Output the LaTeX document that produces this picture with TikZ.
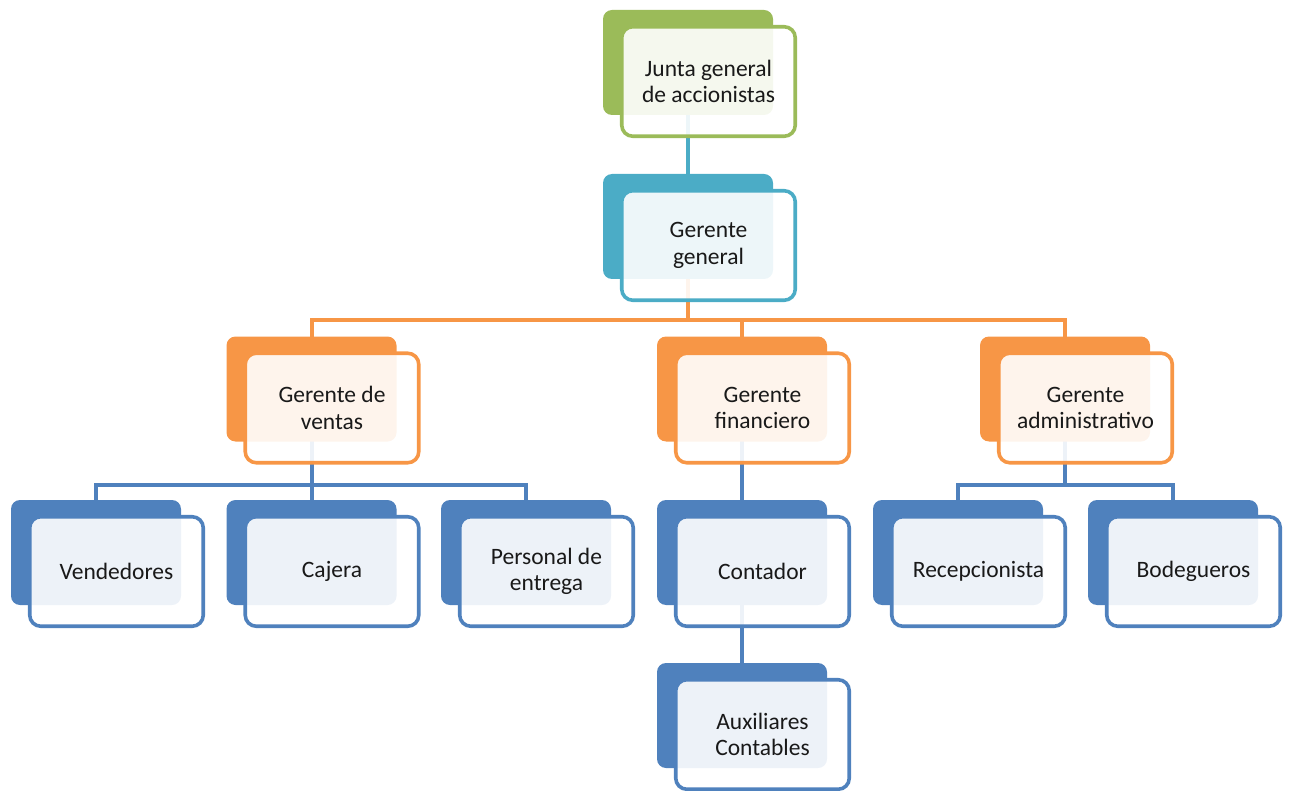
\documentclass[tikz,border=0pt]{standalone}
\usepackage{fontspec}
\setmainfont{Carlito}
\usepackage{tikz}
\usetikzlibrary{positioning, backgrounds}

\definecolor{olgreen}{HTML}{9BBB59}
\definecolor{olteal}{HTML}{4BACC6}
\definecolor{olorange}{HTML}{F79646}
\definecolor{olblue}{HTML}{4F81BD}

\begin{document}
\begin{tikzpicture}[
  x=1pt, y=-1pt,
  backbox/.style={rectangle, rounded corners=9pt, fill=#1, inner sep=0pt,
                  minimum width=170pt, minimum height=105pt},
  frontbox/.style={rectangle, rounded corners=11pt, draw=#1, line width=3.6pt,
                   fill=white, fill opacity=0.9, text opacity=1, text=black!90,
                   align=center, inner sep=0pt,
                   minimum width=173.5pt, minimum height=109.5pt,
                   font=\fontsize{23.5}{26.5}\selectfont},
  link/.style={draw=#1, line width=4pt}
]
\useasboundingbox (0,0) rectangle (1292,791);

% back plates
\node[backbox=olgreen]  (juntab)  at (688,62.5)  {};
\node[backbox=olteal]   (ggb)     at (688,226.5) {};
\node[backbox=olorange] (ventasb) at (311.5,389) {};
\node[backbox=olorange] (finb)    at (742,389)   {};
\node[backbox=olorange] (admb)    at (1065,389)  {};
\node[backbox=olblue]   (vendb)   at (96,552.5)  {};
\node[backbox=olblue]   (cajb)    at (311.5,552.5) {};
\node[backbox=olblue]   (persb)   at (526,552.5) {};
\node[backbox=olblue]   (contb)   at (742,552.5) {};
\node[backbox=olblue]   (recb)    at (958,552.5) {};
\node[backbox=olblue]   (bodb)    at (1173,552.5) {};
\node[backbox=olblue]   (auxb)    at (742,715.5) {};

% front boxes with text
\node[frontbox=olgreen]  (junta)  at ([shift={(20.5,19)}]juntab)  {Junta general\\de accionistas};
\node[frontbox=olteal]   (gg)     at ([shift={(20.5,19)}]ggb)     {Gerente\\general};
\node[frontbox=olorange] (ventas) at ([shift={(20.5,19)}]ventasb) {Gerente de\\ventas};
\node[frontbox=olorange] (fin)    at ([shift={(20.5,19)}]finb)    {Gerente\\financiero};
\node[frontbox=olorange] (adm)    at ([shift={(20.5,19)}]admb)    {Gerente\\administrativo};
\node[frontbox=olblue]   (vend)   at ([shift={(20.5,19)}]vendb)   {Vendedores};
\node[frontbox=olblue]   (caj)    at ([shift={(20.5,19)}]cajb)    {Cajera};
\node[frontbox=olblue]   (pers)   at ([shift={(20.5,19)}]persb)   {Personal de\\entrega};
\node[frontbox=olblue]   (cont)   at ([shift={(20.5,19)}]contb)   {Contador};
\node[frontbox=olblue]   (rec)    at ([shift={(20.5,19)}]recb)    {Recepcionista};
\node[frontbox=olblue]   (bod)    at ([shift={(20.5,19)}]bodb)    {Bodegueros};
\node[frontbox=olblue]   (aux)    at ([shift={(20.5,19)}]auxb)    {Auxiliares\\Contables};

\coordinate (bus2) at (688,320);
\coordinate (bus3) at (311.5,485);
\coordinate (bus4) at (1065,485);

% connectors behind the boxes
\begin{scope}[on background layer]
\draw[link=olteal] (juntab.center) -- (ggb.center);
\draw[link=olorange] (ggb.center) -- (bus2);
\draw[link=olorange] (ventasb.center) |- (bus2) -| (admb.center);
\draw[link=olorange] (bus2 -| finb) -- (finb.center);
\draw[link=olblue] (ventasb.center) -- (cajb.center);
\draw[link=olblue] (vendb.center) |- (bus3) -| (persb.center);
\draw[link=olblue] (finb.center) -- (contb.center) -- (auxb.center);
\draw[link=olblue] (admb.center) -- (bus4);
\draw[link=olblue] (recb.center) |- (bus4) -| (bodb.center);
\end{scope}

\end{tikzpicture}
\end{document}
